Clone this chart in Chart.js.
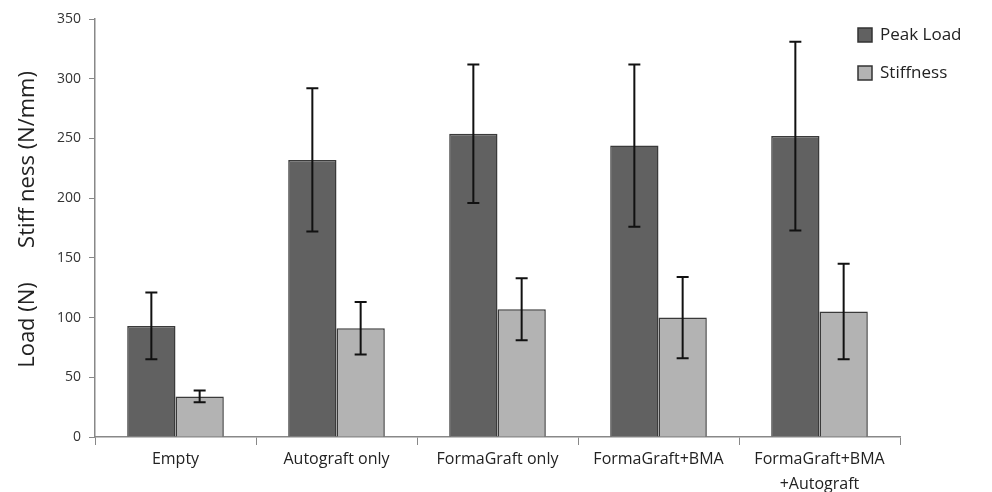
<!DOCTYPE html>
<html>
<head>
<meta charset="utf-8">
<script src="https://cdn.jsdelivr.net/npm/chart.js@4"></script>
<style>
  html, body { margin: 0; padding: 0; background: #fff; }
  #wrap { width: 992px; height: 492px; }
</style>
</head>
<body>
<div id="wrap"><canvas id="barChart" width="992" height="492"></canvas></div>
<script>
const groups = ['Empty', 'Autograft only', 'FormaGraft only', 'FormaGraft+BMA', ['FormaGraft+BMA', '+Autograft']];
const peakLoad = [93, 232, 254, 244, 252];
const peakLoadErr = [28, 60, 58, 68, 79];
const stiffness = [34, 91, 107, 100, 105];
const stiffnessErr = [5, 22, 26, 34, 40];
const yTicks = [0, 50, 100, 150, 200, 250, 300, 350];

const FONT = '"Open Sans", "Liberation Sans", sans-serif';

// error bars drawn on top of each bar
const errorBars = {
  id: 'errorBars',
  afterDatasetsDraw(chart) {
    const ctx = chart.ctx;
    const y = chart.scales.y;
    chart.data.datasets.forEach((ds, i) => {
      const meta = chart.getDatasetMeta(i);
      meta.data.forEach((bar, j) => {
        const v = ds.data[j], e = ds.errors[j];
        const top = y.getPixelForValue(v + e);
        const bot = y.getPixelForValue(v - e);
        ctx.save();
        ctx.strokeStyle = '#111';
        ctx.lineWidth = 2;
        ctx.beginPath();
        ctx.moveTo(bar.x, top); ctx.lineTo(bar.x, bot);
        ctx.moveTo(bar.x - 6, top); ctx.lineTo(bar.x + 6, top);
        ctx.moveTo(bar.x - 6, bot); ctx.lineTo(bar.x + 6, bot);
        ctx.stroke();
        ctx.restore();
      });
    });
  }
};

// legend in top right corner
const cornerLegend = {
  id: 'cornerLegend',
  afterDraw(chart) {
    const ctx = chart.ctx;
    chart.data.datasets.forEach((ds, i) => {
      const yy = 35 + i * 38;
      ctx.save();
      ctx.fillStyle = ds.backgroundColor;
      ctx.strokeStyle = '#333';
      ctx.lineWidth = 1.5;
      ctx.fillRect(858, yy - 7, 14, 14);
      ctx.strokeRect(858, yy - 7, 14, 14);
      ctx.fillStyle = '#222';
      ctx.font = '17px ' + FONT;
      ctx.textBaseline = 'middle';
      ctx.fillText(ds.label, 880, yy);
      ctx.restore();
    });
  }
};

new Chart(document.getElementById('barChart'), {
  type: 'bar',
  data: {
    labels: groups,
    datasets: [{
      label: 'Peak Load',
      data: peakLoad,
      errors: peakLoadErr,
      backgroundColor: '#616161',
      borderColor: '#3a3a3a',
      borderWidth: 1.5
    }, {
      label: 'Stiffness',
      data: stiffness,
      errors: stiffnessErr,
      backgroundColor: '#b3b3b3',
      borderColor: '#3a3a3a',
      borderWidth: 1.5
    }]
  },
  options: {
    responsive: false,
    animation: false,
    layout: { padding: { top: 19, right: 92, bottom: 0, left: 0 } },
    datasets: { bar: { categoryPercentage: 0.6, barPercentage: 1.0 } },
    plugins: {
      legend: { display: false },
      tooltip: { enabled: false }
    },
    scales: {
      x: {
        grid: { display: true, drawOnChartArea: false, offset: true, tickLength: 8, color: '#888' },
        border: { color: '#888', width: 1.5 },
        ticks: { color: '#222', font: { family: FONT, size: 16, lineHeight: 1.55 }, maxRotation: 0, padding: 2 },
        afterFit(scale) { scale.height = 55; }
      },
      y: {
        min: 0, max: 350,
        afterBuildTicks(scale) { scale.ticks = yTicks.map(v => ({ value: v })); },
        grid: { display: true, drawOnChartArea: false, tickLength: 6, color: '#888' },
        border: { color: '#888', width: 1.5 },
        ticks: { color: '#333', font: { family: FONT, size: 14 }, padding: 8 },
        title: {
          display: true,
          text: '   Load (N)      Stiff ness (N/mm)',
          color: '#222',
          font: { family: FONT, size: 22 },
          padding: { top: 15, bottom: 0 }
        },
        afterFit(scale) { scale.width = 95; }
      }
    }
  },
  plugins: [errorBars, cornerLegend]
});
</script>
</body>
</html>
